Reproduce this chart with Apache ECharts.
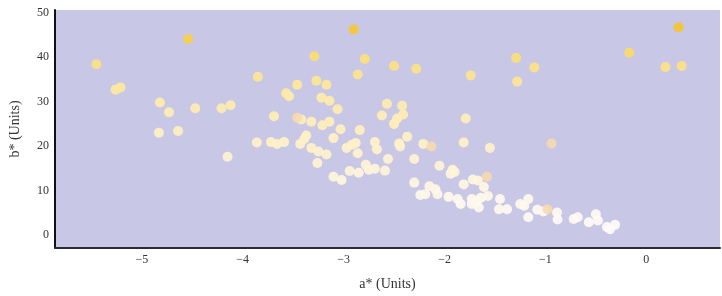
<!DOCTYPE html>
<html>
<head>
<meta charset="utf-8">
<script src="https://cdn.jsdelivr.net/npm/echarts@6/dist/echarts.min.js"></script>
<style>
  html, body { margin: 0; padding: 0; background: #fff; }
  #chart { width: 722px; height: 296px; }
</style>
</head>
<body>
<div id="chart"></div>
<script>
// a*, b* pairs
const aValues = [
  -5.45, -4.54, -5.26, -5.21, -4.82, -4.73, -4.47, -4.83, -4.64, -4.21,
  -4.12, -4.15, 0.32, -0.17, 0.19, 0.35, -1.29, -1.11, -1.28, -1.55,
  -2.90, -3.29, -2.79, -2.50, -2.28, -1.74, -3.85, -2.86, -3.46, -3.27,
  -3.17, -3.57, -3.54, -3.22, -3.14, -3.06, -2.57, -2.42, -2.41, -2.62,
  -2.47, -2.50, -3.69, -3.42, -3.32, -3.21, -3.14, -3.03, -2.84, -1.79,
  -3.86, -3.72, -3.66, -3.59, -3.37, -3.39, -3.43, -3.10, -2.69, -2.45,
  -2.37, -2.21, -1.81, -3.32, -3.25, -3.17, -3.26, -3.10, -3.02, -2.94,
  -2.85, -2.97, -2.92, -2.88, -2.86, -2.67, -2.44, -2.56, -2.78, -2.75,
  -2.69, -2.59, -2.30, -2.05, -1.92, -1.90, -1.94, -2.30, -2.15, -2.09,
  -2.19, -2.07, -2.24, -1.81, -1.72, -1.67, -1.61, -1.96, -1.87, -1.84,
  -1.73, -1.68, -1.64, -1.57, -1.66, -1.73, -1.45, -1.46, -1.38, -1.25,
  -1.21, -1.17, -1.17, -1.08, -1.02, -0.885, -0.88, -0.72, -0.68, -0.57,
  -0.50, -0.48, -0.39, -0.31, -0.36
];
const bValues = [
  38.4, 44.1, 32.7, 33.2, 29.8, 27.6, 28.5, 23.0, 23.4, 28.5,
  29.2, 17.6, 46.7, 41.0, 37.8, 38.0, 39.8, 37.7, 34.5, 19.6,
  46.2, 40.2, 39.6, 38.0, 37.4, 35.9, 35.6, 36.1, 33.8, 34.7,
  33.8, 31.9, 31.2, 30.9, 30.2, 28.3, 29.5, 29.1, 27.1, 26.9,
  26.2, 25.0, 26.7, 26.0, 25.5, 24.7, 25.5, 23.8, 23.6, 26.2,
  20.8, 20.9, 20.5, 20.9, 22.4, 21.6, 20.5, 21.8, 20.9, 20.6,
  22.1, 20.5, 20.8, 19.6, 18.8, 18.1, 16.2, 13.1, 12.4, 14.4,
  14.0, 19.6, 20.3, 20.7, 18.4, 19.3, 19.9, 17.1, 15.8, 14.7,
  14.9, 14.5, 17.1, 15.6, 14.7, 14.2, 13.8, 11.8, 11.0, 10.3,
  9.2, 9.2, 9.0, 11.4, 12.5, 12.3, 10.8, 8.6, 8.1, 7.0,
  8.1, 7.7, 8.4, 8.8, 6.2, 7.0, 8.1, 5.8, 5.8, 7.0,
  6.6, 8.1, 4.0, 5.7, 5.3, 5.1, 3.5, 3.6, 4.0, 2.9,
  4.7, 3.3, 1.8, 2.3, 1.3
];
// a few samples with a warmer (peach) tone
const warmA = [-0.94, -2.13, -1.58, -0.98, -3.46];
const warmB = [20.6, 19.9, 13.1, 5.8, 26.4];

const xTicks = [-5, -4, -3, -2, -1, 0];
const yTicks = [0, 10, 20, 30, 40, 50];

const mainData = aValues.map((a, i) => [a, bValues[i]]);
const warmData = warmA.map((a, i) => [a, warmB[i]]);

const fmt = v => (v < 0 ? '\u2212' + Math.abs(v) : String(v));
const serif = 'Liberation Serif';

const chart = echarts.init(document.getElementById('chart'));
chart.setOption({
  animation: false,
  grid: {
    left: 55, right: 2, top: 10, bottom: 45,
    show: true, backgroundColor: '#c8c8e6', borderWidth: 0
  },
  xAxis: {
    type: 'value', min: -5.86, max: 0.73,
    name: 'a* (Units)', nameLocation: 'middle', nameGap: 29,
    nameTextStyle: { fontFamily: serif, fontSize: 14, color: '#333' },
    axisLine: { show: true, onZero: false, lineStyle: { color: '#2b2b38', width: 2 } },
    axisTick: { show: false },
    splitLine: { show: false },
    axisLabel: {
      customValues: xTicks, formatter: fmt, margin: 6,
      fontFamily: serif, fontSize: 12, color: '#333'
    }
  },
  yAxis: {
    type: 'value', min: -2.9, max: 50.6,
    name: 'b* (Units)', nameLocation: 'middle', nameGap: 33,
    nameTextStyle: { fontFamily: serif, fontSize: 14, color: '#333' },
    axisLine: { show: true, onZero: false, lineStyle: { color: '#111', width: 2 } },
    axisTick: { show: false },
    splitLine: { show: false },
    axisLabel: {
      customValues: yTicks, formatter: fmt, margin: 6,
      fontFamily: serif, fontSize: 12, color: '#333'
    }
  },
  visualMap: {
    show: false, type: 'continuous', seriesIndex: 0, dimension: 1,
    min: 0, max: 47,
    inRange: { color: ['#fffcfa', '#fff8ec', '#fff3d6', '#fff0c0', '#feeaa8', '#fde07e', '#f5c52a'] }
  },
  series: [
    {
      type: 'scatter', data: mainData, symbolSize: 10,
      itemStyle: { opacity: 0.92 }
    },
    {
      type: 'scatter', data: warmData, symbolSize: 10,
      itemStyle: { color: '#f5dab0', opacity: 0.92 }
    }
  ]
});
</script>
</body>
</html>
